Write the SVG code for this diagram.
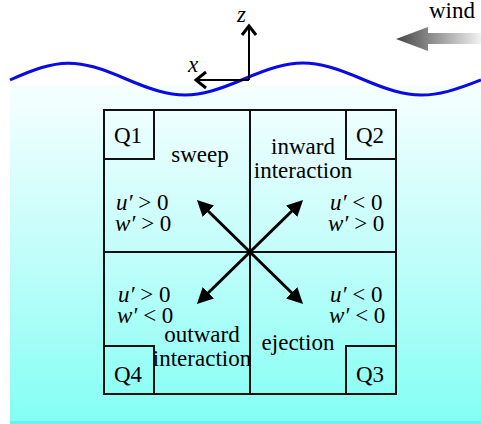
<svg xmlns="http://www.w3.org/2000/svg" width="481" height="424" viewBox="0 0 481 424">
<defs>
<linearGradient id="water" x1="0" y1="0" x2="0" y2="1">
<stop offset="0" stop-color="#f6ffff"/>
<stop offset="0.5" stop-color="#c2fdfa"/>
<stop offset="1" stop-color="#84fff4"/>
</linearGradient>
<linearGradient id="windg" gradientUnits="userSpaceOnUse" x1="396" y1="0" x2="481" y2="0">
<stop offset="0" stop-color="#454545"/>
<stop offset="1" stop-color="#f2f2f2"/>
</linearGradient>
<marker id="ah" markerUnits="userSpaceOnUse" markerWidth="18" markerHeight="18" viewBox="0 0 18 18" refX="10" refY="9" orient="auto">
<path d="M0,1 L16,9 L0,17 z" fill="#000"/>
</marker>
<style>
.t{font-family:"Liberation Serif","Times New Roman",serif;font-size:23px;fill:#000}
.i{font-style:italic}
.c{text-anchor:middle}
.box{fill:none;stroke:#111;stroke-width:2}
.arr{stroke:#000;stroke-width:3;fill:none;marker-end:url(#ah)}
.ax{stroke:#000;stroke-width:2;fill:none}
.chev{stroke:#000;stroke-width:3;fill:none;stroke-linejoin:miter}
</style>
</defs>
<rect x="0" y="0" width="481" height="424" fill="#fff"/>
<rect x="10" y="85" width="471" height="336" fill="url(#water)"/>
<rect x="10" y="421" width="471" height="3" fill="#62f4ef"/>
<g id="wind">
<path d="M396,39 L428,27 L428,33 L481,33 L481,44 L428,44 L428,51 Z" fill="url(#windg)"/>
<text class="t" x="429" y="18">wind</text>
</g>
<g id="surface">
<path d="M10,80 C59,57.7 77,57.7 126,79 C176,100.3 194,100.3 244,79 C294,57.7 312,57.7 362,79 C412,100.3 430,100.3 481,80" fill="none" stroke="#0a0ae6" stroke-width="3"/>
</g>
<g id="axes">
<line class="ax" x1="249" y1="80" x2="249" y2="26"/>
<polyline class="chev" points="242,35 249,26 256,35"/>
<line class="ax" x1="249" y1="80" x2="196" y2="80"/>
<polyline class="chev" points="206,72 196,80 206,88"/>
<text class="t i" x="237" y="22">z</text>
<text class="t i" x="188" y="72">x</text>
</g>
<g id="quadrants">
<rect class="box" x="104" y="110" width="292" height="284"/>
<line class="box" x1="250" y1="110" x2="250" y2="394"/>
<line class="box" x1="104" y1="252" x2="396" y2="252"/>
</g>
<g id="q1">
<rect class="box" x="104" y="110" width="50" height="49"/>
<text class="t" x="114" y="143">Q1</text>
<text class="t c" x="200" y="162">sweep</text>
<text class="t" x="116" y="210"><tspan class="i">u′</tspan> &gt; 0</text>
<text class="t" x="115" y="231"><tspan class="i">w′</tspan> &gt; 0</text>
</g>
<g id="q2">
<rect class="box" x="346" y="110" width="50" height="49"/>
<text class="t" x="356" y="143">Q2</text>
<text class="t c" x="303" y="154">inward</text>
<text class="t c" x="303" y="178">interaction</text>
<text class="t" x="330" y="210"><tspan class="i">u′</tspan> &lt; 0</text>
<text class="t" x="328" y="231"><tspan class="i">w′</tspan> &gt; 0</text>
</g>
<g id="q3">
<rect class="box" x="346" y="346" width="50" height="48"/>
<text class="t" x="356" y="382">Q3</text>
<text class="t c" x="298" y="350">ejection</text>
<text class="t" x="330" y="302"><tspan class="i">u′</tspan> &lt; 0</text>
<text class="t" x="329" y="323"><tspan class="i">w′</tspan> &lt; 0</text>
</g>
<g id="q4">
<rect class="box" x="104" y="346" width="50" height="48"/>
<text class="t" x="114" y="382">Q4</text>
<text class="t c" x="202" y="342">outward</text>
<text class="t c" x="202" y="366">interaction</text>
<text class="t" x="118" y="302"><tspan class="i">u′</tspan> &gt; 0</text>
<text class="t" x="117" y="323"><tspan class="i">w′</tspan> &lt; 0</text>
</g>
<g id="connectors">
<line class="arr" x1="250" y1="252" x2="201.2" y2="204.2"/>
<line class="arr" x1="250" y1="252" x2="298.8" y2="204.2"/>
<line class="arr" x1="250" y1="252" x2="201.2" y2="299.8"/>
<line class="arr" x1="250" y1="252" x2="298.8" y2="299.8"/>
</g>
</svg>
